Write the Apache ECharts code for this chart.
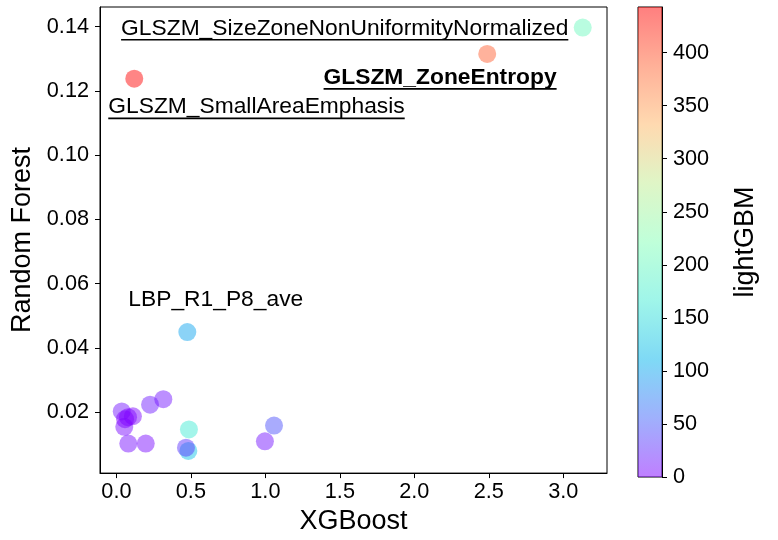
<!DOCTYPE html>
<html><head><meta charset="utf-8">
<script src="https://cdn.jsdelivr.net/npm/echarts@6/dist/echarts.min.js"></script>
<style>html,body{margin:0;padding:0;background:#fff}#c{width:778px;height:540px}</style>
</head><body><div id="c"></div>
<script>
// ---- data ----
const featureNames = ['', '', '', '', '', '', '', '', '', '', '', '', '', '',
  'LBP_R1_P8_ave', 'GLSZM_SmallAreaEmphasis', 'GLSZM_ZoneEntropy', 'GLSZM_SizeZoneNonUniformityNormalized'];
const xgboost =      [0.483, 0.467, 0.487, 0.997, 1.058, 0.080, 0.197, 0.053, 0.036, 0.078, 0.111, 0.058, 0.226, 0.315, 0.476, 0.120, 2.489, 3.130];
const randomForest = [0.0079, 0.0089, 0.0146, 0.0109, 0.0158, 0.0102, 0.0102, 0.0154, 0.0202, 0.0184, 0.0187, 0.0178, 0.0223, 0.0240, 0.0449, 0.1238, 0.1315, 0.1397];
const lightgbm =     [125, 30, 165, 10, 45, 8, 6, 5, 12, 3, 2, 0, 15, 12, 100, 443, 390, 205];

const xTicks = [0.0, 0.5, 1.0, 1.5, 2.0, 2.5, 3.0];
const yTicks = [0.02, 0.04, 0.06, 0.08, 0.10, 0.12, 0.14];
const cbTicks = [0, 50, 100, 150, 200, 250, 300, 350, 400];

// ---- styles ----
const FONT = '"Liberation Sans", Arial, Helvetica, sans-serif';
const rainbowRGB = ['128,0,255', '64,98,250', '0,180,236', '64,236,212', '128,255,180',
                    '191,236,142', '255,180,98', '255,98,50', '255,0,0'];
const pointColors = rainbowRGB.map(c => 'rgba(' + c + ',0.6)');
const barColors = rainbowRGB.map(c => 'rgba(' + c + ',0.5)');
const labelStyles = {
  'GLSZM_SizeZoneNonUniformityNormalized': {weight: 'normal', underline: true, align: 'right', vAlign: 'top', dx: -14.4, dy: -9.8},
  'GLSZM_ZoneEntropy': {weight: 'bold', underline: true, align: 'right', vAlign: 'top', dx: 69.4, dy: 13},
  'GLSZM_SmallAreaEmphasis': {weight: 'normal', underline: true, align: 'left', vAlign: 'top', dx: -26, dy: 17.7},
  'LBP_R1_P8_ave': {weight: 'normal', underline: false, align: 'left', vAlign: 'middle', dx: -59, dy: -32.5}
};
const LABEL_SIZE = 22.8;

const cbMin = 0;
const cbMax = Math.max.apply(null, lightgbm);

const measureCtx = document.createElement('canvas').getContext('2d');
function textWidth(t, size, weight) {
  measureCtx.font = weight + ' ' + size + 'px ' + FONT;
  return measureCtx.measureText(t).width;
}

const points = xgboost.map((x, i) => {
  const item = {value: [x, randomForest[i], lightgbm[i]]};
  const name = featureNames[i];
  const st = labelStyles[name];
  if (name && st) {
    const w = textWidth(name, LABEL_SIZE, st.weight);
    item.label = {
      show: true, position: 'inside', align: st.align, verticalAlign: st.vAlign, offset: [st.dx, st.dy],
      color: '#000', textBorderWidth: 0, textBorderColor: 'transparent', opacity: 1,
      formatter: st.underline ? '{t|' + name + '}\n{u| }' : '{t|' + name + '}',
      rich: {
        t: {fontSize: LABEL_SIZE, fontWeight: st.weight, fontFamily: FONT, color: '#000', lineHeight: 21,
            textBorderWidth: 0, textBorderColor: 'transparent'},
        u: {width: w, height: 1.6, lineHeight: 2, fontSize: 2, backgroundColor: '#000', color: 'transparent',
            textBorderWidth: 0}
      }
    };
  }
  return item;
});

const tickFont = {fontSize: 21.7, fontFamily: FONT, color: '#000'};

const chart = echarts.init(document.getElementById('c'), null, {renderer: 'canvas'});
chart.setOption({
  animation: false,
  backgroundColor: '#fff',
  grid: [
    {left: 100, right: 171, top: 7, bottom: 63, show: true, borderColor: '#000', borderWidth: 1, backgroundColor: 'transparent'},
    {left: 638, width: 24, top: 7, bottom: 63, show: true, borderColor: '#000', borderWidth: 1, backgroundColor: 'transparent'}
  ],
  xAxis: [
    {
      type: 'value', gridIndex: 0, min: -0.110, max: 3.293,
      name: 'XGBoost', nameLocation: 'middle', nameGap: 32,
      nameTextStyle: {fontSize: 27, fontFamily: FONT, color: '#000'},
      axisLine: {show: true, onZero: false, lineStyle: {color: '#000', width: 1}},
      axisTick: {show: true, length: 5, lineStyle: {color: '#000'}, customValues: xTicks},
      axisLabel: Object.assign({margin: 8, customValues: xTicks, formatter: v => Number(v).toFixed(1)}, tickFont),
      splitLine: {show: false}
    },
    {type: 'category', gridIndex: 1, data: ['cb'], show: false}
  ],
  yAxis: [
    {
      type: 'value', gridIndex: 0, min: 0.0010, max: 0.1461,
      name: 'Random Forest', nameLocation: 'middle', nameGap: 53, nameRotate: 90,
      nameTextStyle: {fontSize: 27, fontFamily: FONT, color: '#000'},
      axisLine: {show: true, onZero: false, lineStyle: {color: '#000', width: 1}},
      axisTick: {show: true, length: 5, lineStyle: {color: '#000'}, customValues: yTicks},
      axisLabel: Object.assign({margin: 11, customValues: yTicks, formatter: v => Number(v).toFixed(2)}, tickFont),
      splitLine: {show: false}
    },
    {
      type: 'value', gridIndex: 1, position: 'right', min: cbMin, max: cbMax,
      name: 'lightGBM', nameLocation: 'middle', nameGap: 70, nameRotate: 90,
      nameTextStyle: {fontSize: 27, fontFamily: FONT, color: '#000'},
      axisLine: {show: true, onZero: false, lineStyle: {color: '#000', width: 1}},
      axisTick: {show: true, length: 5, lineStyle: {color: '#000'}, customValues: cbTicks},
      axisLabel: Object.assign({margin: 11, customValues: cbTicks}, tickFont),
      splitLine: {show: false}
    }
  ],
  visualMap: {
    type: 'continuous', show: false, seriesIndex: 0, dimension: 2, min: cbMin, max: cbMax,
    inRange: {color: pointColors}
  },
  series: [
    {
      type: 'scatter', xAxisIndex: 0, yAxisIndex: 0, symbol: 'circle', symbolSize: 18,
      emphasis: {disabled: true},
      data: points
    },
    {
      type: 'bar', xAxisIndex: 1, yAxisIndex: 1, barWidth: '100%', silent: true,
      data: [cbMax],
      itemStyle: {
        color: {type: 'linear', x: 0, y: 1, x2: 0, y2: 0,
          colorStops: barColors.map((c, i) => ({offset: i / (barColors.length - 1), color: c}))}
      }
    }
  ]
});
</script>
</body></html>
